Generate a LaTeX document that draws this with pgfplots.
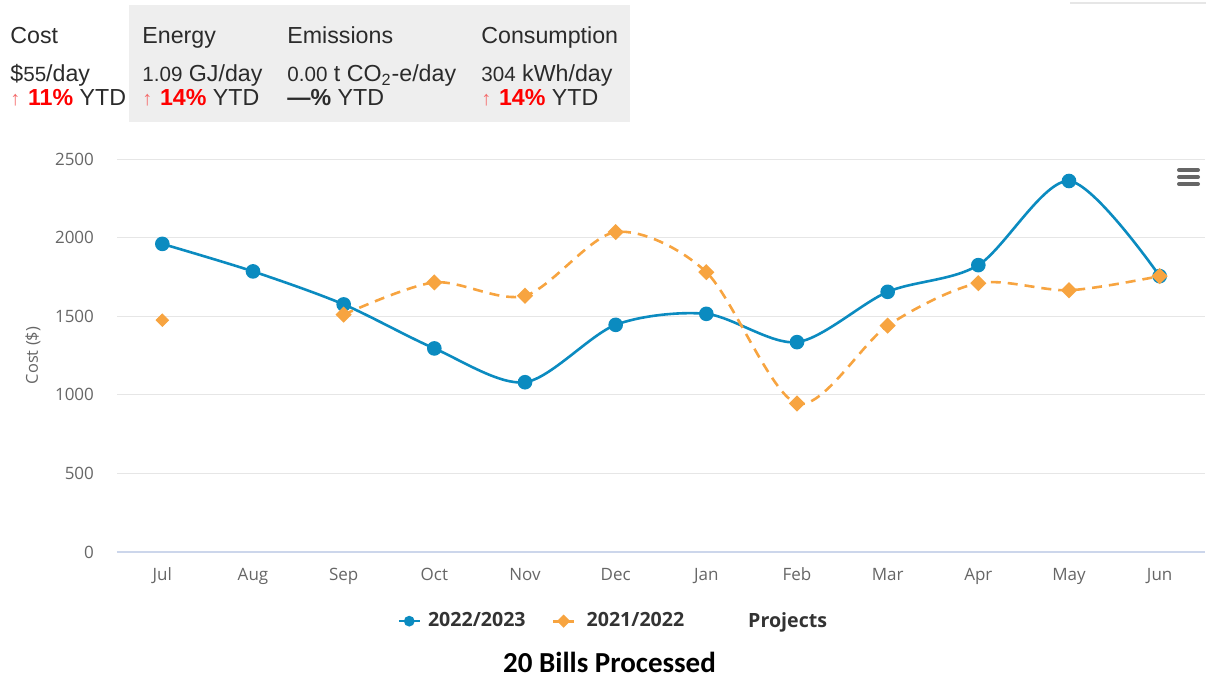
\documentclass[border=0pt]{standalone}
\usepackage{fontspec}
\usepackage{pgfplots}
\pgfplotsset{compat=1.18}
\setmainfont{Open Sans}
\newfontfamily\hdr{Liberation Sans}
\newfontfamily\carl{Carlito}
\definecolor{blueline}{HTML}{0B8BC0}
\definecolor{orangeline}{HTML}{F7A440}
\definecolor{gridgray}{HTML}{E6E6E6}
\definecolor{axisblue}{HTML}{CCD6EB}
\definecolor{tickgray}{HTML}{666666}
\definecolor{legtext}{HTML}{333333}
\definecolor{boxgray}{HTML}{EEEEEE}
\definecolor{hdrtext}{HTML}{2B2B2B}
\definecolor{arrowred}{HTML}{F46A6A}
\definecolor{pctred}{HTML}{FF0000}
\newcommand{\sm}[1]{{\fontsize{10.3}{12}\selectfont #1}}
\newcommand{\up}[1]{{\color{arrowred}\fontsize{10}{12}\selectfont↑}\hspace{0.6pt} {\bfseries\color{pctred}#1\%}}

\begin{document}
\begin{tikzpicture}
\path[use as bounding box] (0,0) rectangle (603pt,-339.5pt);
% header panel
\fill[boxgray] (64.5pt,-2.5pt) rectangle (315pt,-61pt);
\draw[line width=1pt, gridgray] (535pt,-1.5pt) -- (603pt,-1.5pt);
\begin{scope}[every node/.style={anchor=base west, inner sep=0pt, text=hdrtext, font=\hdr\fontsize{11.6}{13}\selectfont}]
\node at (5pt,-21.75pt) {Cost};
\node at (71pt,-21.75pt) {Energy};
\node at (143.5pt,-21.75pt) {Emissions};
\node at (240.5pt,-21.75pt) {Consumption};
\node at (5pt,-41pt) {\$\sm{55}/day};
\node at (71pt,-41pt) {\sm{1.09} GJ/day};
\node at (143.5pt,-41pt) {\sm{0.00} t CO\textsubscript{2}-e/day};
\node at (240.5pt,-41pt) {\sm{304} kWh/day};
\node at (5pt,-53pt) {\up{11} YTD};
\node at (71pt,-53pt) {\up{14} YTD};
\node at (143.5pt,-53pt) {{\bfseries —\%} YTD};
\node at (240.5pt,-53pt) {\up{14} YTD};
\end{scope}

\begin{axis}[
  at={(58.5pt,-276pt)}, anchor=south west,
  scale only axis, width=544pt, height=196.5pt,
  xmin=-0.5, xmax=11.5, ymin=0, ymax=2500,
  xtick={0,1,2,3,4,5,6,7,8,9,10,11},
  xticklabels={Jul,Aug,Sep,Oct,Nov,Dec,Jan,Feb,Mar,Apr,May,Jun},
  ytick={0,500,1000,1500,2000,2500},
  extra y ticks={0}, extra y tick labels={},
  extra y tick style={grid style={draw=axisblue, line width=0.6pt}},
  ymajorgrids, grid style={draw=gridgray, line width=0.5pt},
  axis line style={draw=none}, tick style={draw=none},
  /pgf/number format/assume math mode=true,
  /pgf/number format/1000 sep={},
  ticklabel style={font=\fontsize{8.5}{10}\selectfont, text=tickgray},
  yticklabel style={xshift=-8pt},
  xticklabel style={yshift=-4.5pt},
  ylabel={Cost (\$)},
  every axis y label/.style={at={(axis description cs:0,0.5)}, xshift=-42pt,
    rotate=90, anchor=center, font=\fontsize{8.2}{10}\selectfont, text=tickgray},
  legend style={at={(0.2574,-0.176)}, anchor=west, draw=none, fill=none,
    inner sep=0pt, font=\bfseries\fontsize{9.8}{11}\selectfont, text=legtext,
    /tikz/every even column/.append style={column sep=11pt}},
  legend columns=3,
  legend image code/.code={%
    \draw[mark repeat=2, mark phase=2, #1] plot coordinates {(0pt,0pt) (5.25pt,0pt) (10.5pt,0pt)};},
]
\addlegendimage{color=blueline, line width=1.3pt, mark=*, mark size=2pt}
\addlegendentry{\hspace{1.5pt}2022/2023}
\addlegendimage{color=orangeline, line width=1.5pt, dash pattern=on 3.5pt off 3.5pt,
  mark=square*, mark size=1.6pt, mark options={solid, rotate=45}}
\addlegendentry{\hspace{3.5pt}2021/2022}
\addlegendimage{empty legend}
\addlegendentry{\hspace{17pt}Projects}
\addplot[forget plot, color=blueline, line width=1.3pt, smooth, tension=0.5,
  mark=*, mark size=3pt] coordinates {
  (0,1960) (1,1785) (2,1575) (3,1295) (4,1080) (5,1445)
  (6,1515) (7,1335) (8,1655) (9,1825) (10,2360) (11,1755)
};
\addplot[forget plot, color=orangeline, line width=1.3pt, smooth, tension=0.5,
  dash pattern=on 5pt off 3.5pt,
  mark=square*, mark size=2.2pt, mark options={solid, rotate=45}] coordinates {
  (2,1510) (3,1715) (4,1630) (5,2035) (6,1780) (7,945)
  (8,1440) (9,1710) (10,1665) (11,1755)
};
\addplot[forget plot, only marks, color=orangeline,
  mark=square*, mark size=2.2pt, mark options={rotate=45}] coordinates {(0,1475)};
\end{axis}

% menu icon
\foreach \yy in {-85,-88.5,-92}
  \draw[tickgray, line width=2pt, line cap=round] (589.5pt,\yy pt) -- (599pt,\yy pt);

\node[anchor=base, inner sep=0pt, font=\carl\bfseries\fontsize{14.5}{16}\selectfont]
  at (304.75pt,-336pt) {20 Bills Processed};
\end{tikzpicture}
\end{document}
